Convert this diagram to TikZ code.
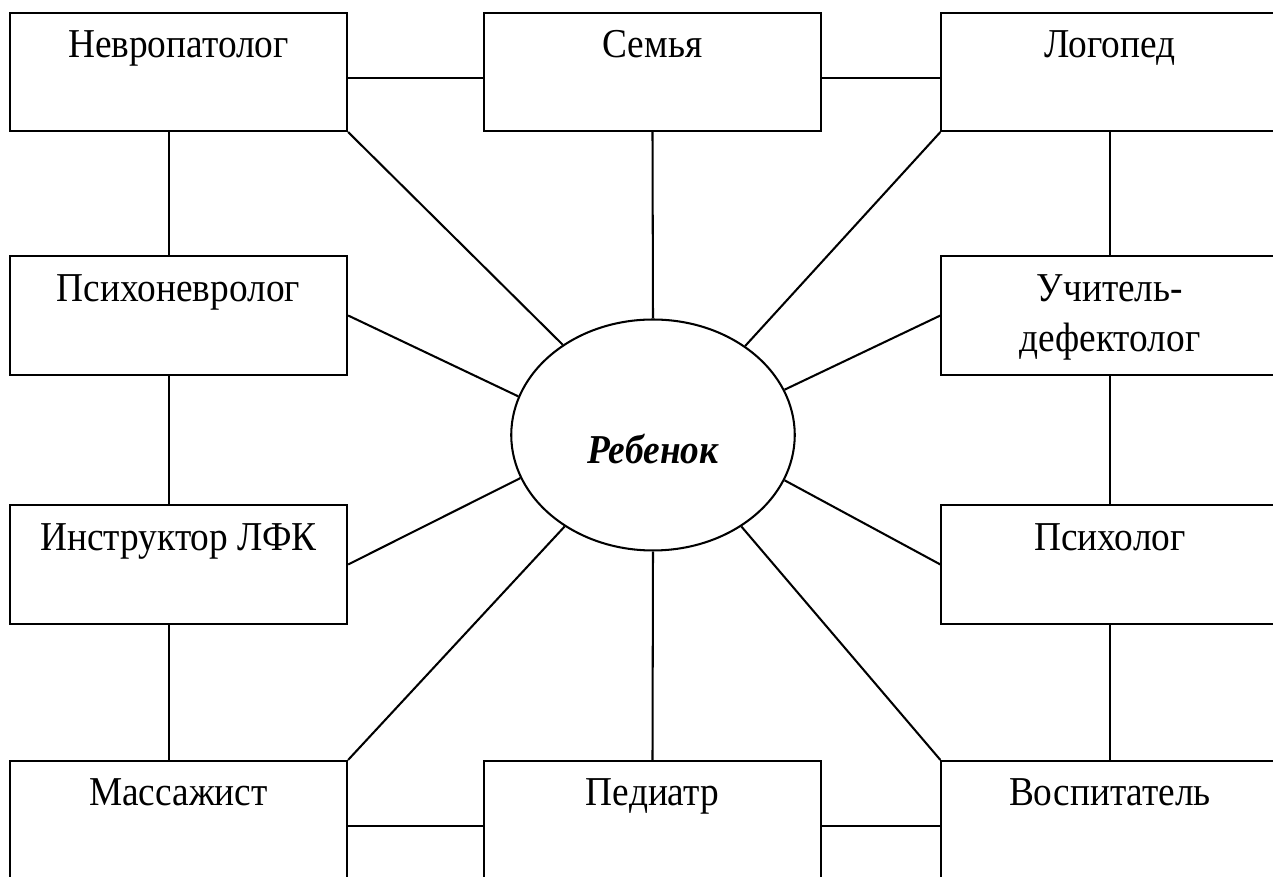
\documentclass[tikz,border=0pt]{standalone}
\usepackage{fontspec}
\setmainfont{Liberation Serif}[FakeStretch=0.91]
\usetikzlibrary{shapes.geometric}

\begin{document}
\begin{tikzpicture}[x=0.012cm,y=-0.012cm,
  box/.style={draw,line width=0.7pt,rectangle,minimum width=4.044cm,inner xsep=0pt,inner ysep=0pt,
    text height=0.54cm,text depth=0.876cm,font=\fontsize{14}{17}\selectfont},
  child/.style={draw,line width=0.7pt,ellipse,minimum width=3.4cm,minimum height=2.77cm,inner sep=0pt,
    text height=0.672cm,text depth=0pt,font=\fontsize{14}{17}\selectfont\bfseries\itshape},
  link/.style={line width=0.7pt}]
  \useasboundingbox (0,0) rectangle (1273,877);
  \clip (0,0) rectangle (1273,877);
  % boxes
  \node[box] (nev) at (178.5,72) {Невропатолог};
  \node[box] (sem) at (652.5,72) {Семья};
  \node[box] (log) at (1110,72) {Логопед};
  \node[box] (psn) at (178.5,315.5) {Психоневролог};
  \node[box] (uch) at (1110,315.5) {\parbox[t]{4cm}{\centering Учитель-\\дефектолог}};
  \node[box] (ins) at (178.5,564.5) {Инструктор ЛФК};
  \node[box] (psh) at (1110,564.5) {Психолог};
  \node[box] (mas) at (178.5,820) {Массажист};
  \node[box] (ped) at (652.5,820) {Педиатр};
  \node[box] (vos) at (1110,820) {Воспитатель};
  \node[child] (reb) at (653,435) {Ребенок};
  % ring
  \draw[link] ([yshift=-0.072cm]nev.east) -- ([yshift=-0.072cm]sem.west);
  \draw[link] ([yshift=-0.072cm]sem.east) -- ([yshift=-0.072cm]log.west);
  \draw[link] ([yshift=-0.072cm]mas.east) -- ([yshift=-0.072cm]ped.west);
  \draw[link] ([yshift=-0.072cm]ped.east) -- ([yshift=-0.072cm]vos.west);
  \draw[link] ([xshift=-0.114cm]nev.south) -- ([xshift=-0.114cm]psn.north);
  \draw[link] ([xshift=-0.114cm]psn.south) -- ([xshift=-0.114cm]ins.north);
  \draw[link] ([xshift=-0.114cm]ins.south) -- ([xshift=-0.114cm]mas.north);
  \draw[link] (log.south) -- (uch.north);
  \draw[link] (uch.south) -- (psh.north);
  \draw[link] (psh.south) -- (vos.north);
  % spokes
  \draw[link] (sem.south) -- (reb.north);
  \draw[link] (ped.north) -- (reb.south);
  \draw[link] (nev.south east) -- (reb.135.4);
  \draw[link] (log.south west) -- (reb.44.4);
  \draw[link] (psn.east) -- (reb.164.3);
  \draw[link] (uch.west) -- (reb.19.4);
  \draw[link] (ins.east) -- (reb.198.9);
  \draw[link] (psh.west) -- (reb.-19);
  \draw[link] (mas.north east) -- (reb.226.4);
  \draw[link] (vos.north west) -- (reb.-46.5);
\end{tikzpicture}
\end{document}
